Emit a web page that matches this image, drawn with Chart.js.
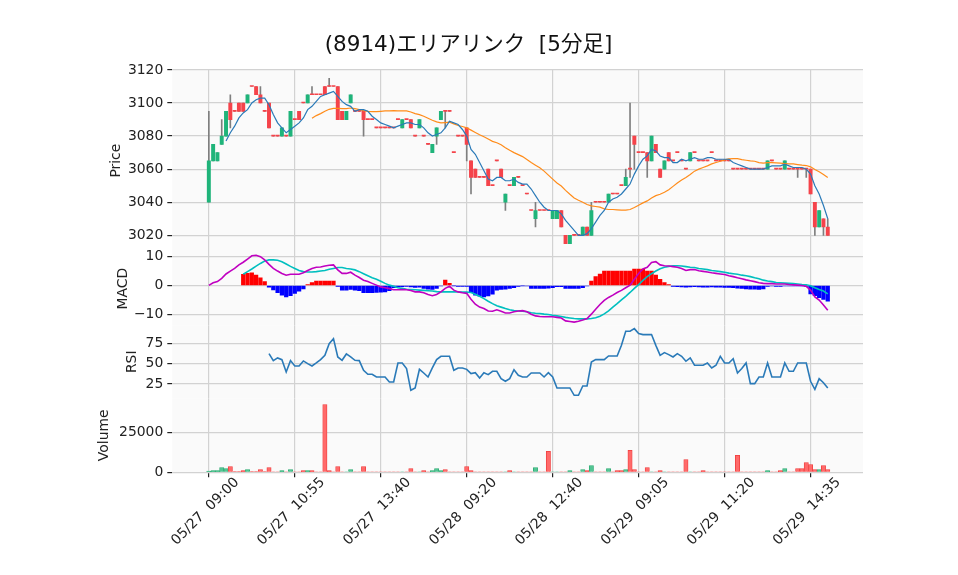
<!DOCTYPE html>
<html>
<head>
<meta charset="utf-8">
<script src="https://cdn.jsdelivr.net/npm/chart.js@4.4.0/dist/chart.umd.min.js"></script>
<style>
  body { margin: 0; background: #fff; }
  #wrap { position: relative; width: 958px; height: 575px; }
  #wrap canvas { position: absolute; left: 0; top: 0; }
</style>
</head>
<body>
<div id="wrap">
  <canvas id="cPrice" width="958" height="575"></canvas>
  <canvas id="cMacd" width="958" height="575"></canvas>
  <canvas id="cRsi" width="958" height="575"></canvas>
  <canvas id="cVol" width="958" height="575"></canvas>
</div>
<script>
// タイトル・目盛り
const chartTitle = '(8914)エリアリンク  [5分足]';
const xTickPos = [0, 20, 40, 60, 80, 100, 120, 140];
const xTickText = ['05/27  09:00', '05/27  10:55', '05/27  13:40', '05/28  09:20',
                   '05/28  12:40', '05/29  09:05', '05/29  11:20', '05/29  14:35'];
const priceTicks = [3020, 3040, 3060, 3080, 3100, 3120];
const macdTicks = [-10, 0, 10];
const rsiTicks = [25, 50, 75];
const volTicks = [0, 25000];

// 5分足 (145本)
const open = [3040,3065,3065,3075,3080,3100,3095,3100,3100,3100,3110,3110,3105,3095,3100,3080,3080,3080,3080,3080,
  3090,3095,3100,3100,3105,3105,3105,3110,3110,3110,3110,3095,3090,3100,3095,3095,3095,3090,3090,3085,
  3085,3085,3085,3085,3090,3085,3090,3090,3080,3085,3080,3075,3070,3080,3090,3095,3095,3070,3080,3080,
  3085,3065,3060,3055,3055,3060,3050,3065,3060,3040,3050,3050,3055,3050,3045,3035,3030,3035,3035,3035,
  3030,3030,3035,3020,3015,3020,3020,3020,3025,3020,3040,3040,3040,3040,3045,3045,3050,3050,3060,3080,
  3070,3070,3070,3065,3075,3060,3060,3070,3065,3070,3065,3060,3065,3070,3065,3065,3065,3070,3065,3065,
  3065,3065,3060,3060,3060,3060,3060,3060,3060,3060,3060,3065,3060,3060,3060,3060,3060,3060,3060,3060,
  3060,3040,3025,3030,3025];
const high = [3095,3075,3070,3090,3095,3105,3095,3100,3100,3105,3110,3110,3110,3095,3100,3080,3080,3085,3080,3095,
  3090,3095,3100,3105,3110,3105,3105,3110,3115,3110,3110,3095,3095,3105,3095,3095,3095,3090,3090,3085,
  3085,3085,3085,3085,3090,3090,3090,3090,3080,3090,3080,3075,3075,3085,3095,3095,3095,3070,3080,3080,
  3085,3065,3060,3055,3055,3060,3050,3065,3060,3045,3050,3055,3055,3050,3045,3035,3040,3035,3035,3035,
  3035,3035,3035,3020,3020,3020,3020,3025,3025,3040,3040,3040,3040,3045,3045,3045,3050,3060,3100,3080,
  3070,3070,3070,3080,3075,3060,3065,3070,3065,3070,3065,3060,3070,3070,3065,3065,3065,3070,3065,3065,
  3065,3065,3060,3060,3060,3060,3060,3060,3060,3060,3065,3065,3060,3060,3065,3060,3060,3060,3060,3060,
  3060,3040,3035,3030,3030];
const low = [3040,3065,3065,3075,3080,3085,3095,3095,3095,3100,3110,3105,3100,3095,3085,3080,3080,3080,3080,3080,
  3090,3090,3100,3100,3105,3105,3105,3105,3110,3110,3090,3090,3090,3100,3095,3095,3080,3090,3090,3085,
  3085,3085,3085,3085,3090,3085,3090,3085,3080,3085,3080,3075,3070,3075,3090,3085,3095,3070,3080,3080,
  3065,3045,3055,3055,3055,3050,3050,3065,3055,3035,3050,3050,3055,3050,3045,3035,3025,3035,3035,3035,
  3030,3030,3025,3015,3015,3020,3020,3020,3020,3020,3040,3040,3040,3040,3045,3045,3050,3050,3055,3060,
  3070,3070,3055,3065,3070,3055,3060,3065,3065,3070,3065,3060,3065,3070,3065,3065,3065,3070,3065,3065,
  3065,3065,3060,3060,3060,3060,3060,3060,3060,3060,3060,3065,3060,3060,3060,3060,3060,3055,3060,3055,
  3045,3020,3025,3020,3020];
const close = [3065,3075,3070,3080,3095,3090,3095,3095,3095,3105,3110,3105,3100,3095,3085,3080,3080,3085,3080,3095,
  3090,3090,3100,3105,3105,3105,3105,3105,3110,3110,3090,3090,3095,3105,3095,3095,3090,3090,3090,3085,
  3085,3085,3085,3085,3090,3090,3090,3085,3080,3090,3080,3075,3075,3085,3095,3095,3095,3070,3080,3080,
  3075,3055,3055,3055,3055,3050,3050,3065,3055,3045,3050,3055,3055,3050,3045,3035,3035,3035,3035,3035,
  3035,3035,3025,3015,3020,3020,3020,3025,3020,3035,3040,3040,3040,3045,3045,3045,3050,3055,3060,3075,
  3070,3070,3065,3080,3070,3055,3065,3065,3065,3070,3065,3060,3070,3070,3065,3065,3065,3070,3065,3065,
  3065,3065,3060,3060,3060,3060,3060,3060,3060,3060,3065,3065,3060,3060,3065,3060,3060,3060,3060,3060,
  3045,3025,3035,3025,3020];
const volume = [800,1000,1000,3000,2300,3600,400,400,1000,1700,400,400,1700,400,3000,300,300,1000,300,1700,
  300,300,1000,1000,1000,300,300,42400,1000,300,3600,300,300,1700,300,300,3600,300,300,300,
  300,300,300,300,300,300,300,2300,300,300,1000,300,1000,2300,1000,1700,300,300,300,300,
  3600,1000,300,300,300,300,300,300,300,300,1000,300,300,300,300,300,3000,300,300,13100,
  300,300,300,300,1000,300,300,1700,1000,4200,300,300,300,2300,300,1000,1000,1700,13800,1700,
  300,300,3000,300,300,1000,300,300,300,300,300,8000,300,300,300,1000,300,300,300,300,
  300,300,300,10600,300,300,300,300,300,300,1000,300,300,1000,2300,300,300,2300,2300,6100,
  4900,1700,1700,4200,1700];

// 移動平均
const ma5 = [null,null,null,null,3077,3082,3086,3091,3094,3096,3100,3102,3103,3103,3099,3093,3088,3085,3082,3084,
  3086,3088,3091,3096,3098,3101,3104,3105,3106,3107,3104,3101,3099,3098,3095,3096,3096,3095,3092,3090,
  3088,3087,3086,3085,3086,3087,3088,3088,3087,3087,3085,3082,3080,3081,3082,3085,3089,3088,3087,3084,
  3080,3072,3069,3064,3059,3054,3053,3055,3055,3053,3053,3054,3052,3051,3051,3048,3044,3040,3037,3035,
  3035,3035,3033,3029,3026,3023,3020,3020,3021,3024,3028,3032,3035,3040,3042,3043,3045,3048,3051,3057,
  3062,3066,3068,3072,3071,3068,3067,3067,3064,3064,3066,3065,3066,3067,3066,3066,3067,3067,3066,3066,
  3066,3066,3064,3063,3062,3061,3060,3060,3060,3060,3061,3062,3062,3062,3063,3062,3061,3061,3061,3060,
  3057,3050,3045,3038,3030];
const ma25 = [null,null,null,null,null,null,null,null,null,null,null,null,null,null,null,null,null,null,null,null,
  null,null,null,null,3090.8,3092.4,3093.6,3095.0,3096.2,3096.8,3096.8,3096.6,3096.6,3097.0,3096.6,3096.0,3095.4,3095.0,3094.8,3094.8,
  3095.0,3095.2,3095.2,3095.4,3095.2,3095.2,3095.2,3094.6,3093.6,3093.0,3092.0,3090.8,3089.6,3088.6,3088.0,3088.2,3088.4,3087.4,3086.4,3085.8,
  3085.0,3083.6,3082.2,3080.8,3079.6,3078.2,3076.8,3076.0,3074.8,3073.0,3071.4,3070.0,3068.8,3067.6,3065.8,3064.0,3062.4,3060.8,3058.8,3056.4,
  3054.0,3051.6,3049.8,3047.2,3044.8,3042.6,3041.2,3040.0,3038.6,3037.8,3037.4,3037.0,3036.0,3035.6,3035.6,3035.4,3035.2,3035.2,3035.6,3036.8,
  3038.2,3039.6,3040.8,3042.6,3044.0,3044.8,3046.0,3047.6,3049.6,3051.6,3053.4,3055.0,3056.8,3058.8,3060.0,3061.0,3062.0,3063.2,3064.0,3064.8,
  3065.6,3066.2,3066.4,3066.4,3065.8,3065.4,3065.0,3064.8,3064.0,3063.6,3064.0,3064.0,3063.8,3063.6,3063.4,3063.2,3063.2,3062.8,3062.4,3062.2,
  3061.4,3059.8,3058.4,3056.8,3055.0];

// MACD
const macd = [0,0.9,1.3,2.4,3.9,4.9,5.8,7.0,7.9,9.0,10.1,10.3,9.8,8.7,7.2,5.8,4.9,4.1,3.5,3.8,
  3.8,3.8,4.3,5.1,5.8,6.2,6.3,6.6,6.9,7.0,5.3,4.1,4.1,4.5,3.5,2.7,1.8,1.3,0.7,0.1,
  -0.5,-0.8,-1.1,-1.5,-1.5,-1.4,-1.5,-1.7,-2.2,-2.2,-2.5,-3.1,-3.5,-3.1,-2.2,-1.0,-0.3,-1.6,-2.2,-2.5,
  -2.7,-4.7,-6.4,-7.4,-7.9,-8.7,-8.8,-8.3,-8.8,-9.4,-9.4,-9.0,-8.7,-8.6,-9.0,-9.8,-10.4,-10.6,-10.7,-10.7,
  -10.7,-10.9,-11.1,-12.1,-12.3,-12.5,-12.2,-11.8,-11.3,-9.8,-8.1,-6.5,-5.1,-4.1,-3.3,-2.4,-1.7,-0.8,0.1,2.1,
  4.1,5.6,6.2,7.8,8.1,7.0,6.7,6.6,6.4,6.2,5.8,5.1,5.4,5.4,5.0,4.8,4.6,4.3,4.1,3.9,
  3.7,3.3,3.0,2.6,2.3,1.9,1.6,1.3,0.9,0.7,0.6,0.6,0.5,0.5,0.5,0.3,0.2,0.1,0,-0.3,
  -1.6,-3.9,-5.0,-6.7,-8.5];
const signal = [null,null,null,null,null,null,null,null,3.8,4.7,5.6,6.6,7.5,8.3,8.7,8.7,8.6,8.1,7.3,6.5,
  5.8,5.1,4.7,4.6,4.6,4.7,4.9,5.1,5.5,5.8,6.1,6.1,5.8,5.6,5.3,4.7,4.0,3.3,2.6,2.1,
  1.4,0.7,0.1,-0.3,-0.8,-1.0,-1.3,-1.4,-1.5,-1.6,-1.7,-1.8,-1.9,-2.1,-2.2,-2.2,-2.2,-2.2,-2.2,-2.3,
  -2.3,-2.4,-3.0,-3.7,-4.5,-5.4,-6.2,-6.9,-7.4,-7.9,-8.3,-8.6,-8.7,-8.8,-9.0,-9.3,-9.5,-9.6,-9.8,-9.9,
  -10.2,-10.4,-10.6,-10.9,-11.1,-11.3,-11.4,-11.4,-11.4,-11.3,-11.0,-10.5,-9.7,-8.7,-7.4,-6.2,-4.9,-3.7,-2.4,-1.0,
  0.3,1.7,3.0,4.0,4.9,5.7,6.2,6.5,6.7,6.7,6.6,6.4,6.2,6.1,5.8,5.6,5.4,5.1,4.9,4.7,
  4.5,4.2,4.0,3.8,3.5,3.3,3.0,2.6,2.3,1.8,1.5,1.3,1.0,0.9,0.8,0.7,0.6,0.5,0.3,0.2,
  -0.1,-0.8,-1.4,-1.9,-2.9];
const hist = [null,null,null,null,null,null,null,null,3.8,4.1,4.3,3.5,2.6,1.3,-0.6,-1.5,-2.5,-3.3,-3.9,-3.5,
  -2.7,-2.0,-1.2,0.3,1.0,1.5,1.5,1.5,1.5,1.5,-0.3,-1.6,-1.6,-1.4,-1.6,-1.8,-2.5,-2.5,-2.5,-2.4,
  -2.3,-2.2,-1.8,-0.8,-0.5,-0.4,-0.3,-0.5,-0.7,-0.6,-1.0,-1.3,-1.4,-1.0,-0.2,1.8,0.7,-0.1,-0.3,-0.3,
  -0.3,-2.5,-3.3,-3.7,-3.9,-3.6,-3.0,-1.6,-1.4,-1.3,-1.0,-0.8,-0.3,-0.1,-0.2,-1.0,-1.0,-1.0,-1.0,-0.9,
  -0.8,-0.4,-0.4,-1.0,-1.0,-1.0,-1.0,-0.8,-0.2,1.5,3.0,3.9,4.9,4.9,4.9,4.9,4.9,4.9,4.9,5.6,
  5.6,5.6,4.9,4.9,3.5,2.1,1.0,0.3,-0.3,-0.4,-0.5,-0.6,-0.5,-0.4,-0.5,-0.6,-0.6,-0.5,-0.6,-0.6,
  -0.7,-0.7,-0.8,-0.9,-1.0,-1.2,-1.3,-1.3,-1.4,-1.2,-0.3,-0.2,-0.3,-0.3,-0.2,-0.2,-0.2,-0.2,-0.2,-0.3,
  -2.9,-3.5,-4.2,-4.8,-5.4];

// RSI
const rsi = [null,null,null,null,null,null,null,null,null,null,null,null,null,null,62.3,53.7,57.0,54.9,39.8,53.7,
  47.1,47.1,53.3,50.0,47.1,50.8,54.9,60.2,74.6,80.7,58.2,54.1,61.9,58.2,54.1,53.7,41.8,36.9,36.9,33.6,
  33.6,33.6,27.5,27.5,50.8,50.8,43.9,17.2,20.1,43.0,38.5,33.6,44.7,54.9,59.0,59.0,59.0,41.8,44.7,44.7,
  43.0,37.7,38.9,32.4,38.9,36.5,40.6,40.6,31.6,28.3,31.6,42.6,35.7,33.6,33.6,38.5,38.5,38.5,33.6,38.9,
  33.6,20.1,20.1,20.1,20.1,11.1,11.1,22.5,22.5,52.0,54.9,54.9,54.9,59.4,59.4,59.4,72.5,89.8,89.8,93.0,
  86.9,85.7,85.7,85.7,72.5,60.2,63.5,61.1,58.2,62.3,59.0,52.9,57.0,48.0,48.0,48.0,50.8,44.7,48.0,59.0,
  50.8,50.8,56.1,38.5,43.9,50.8,25.4,25.4,33.6,33.6,50.8,33.6,33.6,33.6,50.8,40.6,40.6,50.8,50.8,50.8,
  28.3,18.4,31.6,26.6,20.1];

// ---- 描画 ----
const UP = '#1fb47a', DOWN = '#f5434a', WICK = '#7f7f7f';
const FONT = '"DejaVu Sans", "Noto Sans CJK JP", sans-serif';
const FSIZE = 13.9;
const X_MIN = -8.5, X_MAX = 152.2;
const xy = (arr) => arr.map((v, i) => ({ x: i, y: v }));
const isUp = (i) => close[i] > open[i];

const panelBg = {
  id: 'panelBg',
  beforeDraw(chart) {
    const { ctx, chartArea: a } = chart;
    ctx.save();
    ctx.fillStyle = '#fafafa';
    ctx.fillRect(a.left, a.top, a.right - a.left, a.bottom - a.top);
    ctx.restore();
  }
};

const titlePlugin = {
  id: 'mainTitle',
  afterDraw(chart) {
    const ctx = chart.ctx;
    ctx.save();
    ctx.font = '21.5px ' + FONT;
    ctx.fillStyle = '#111';
    ctx.textAlign = 'center';
    ctx.textBaseline = 'middle';
    ctx.fillText(chartTitle, 468.5, 45);
    ctx.restore();
  }
};

function fmt(v) {
  return v < 0 ? '\u2212' + Math.abs(v) : String(v);
}

function makePanel(id, p) {
  const tickFont = { family: FONT, size: FSIZE };
  const padLeft = p.titleX - FSIZE * 0.6;
  return new Chart(document.getElementById(id), {
    type: 'bar',
    data: { datasets: p.datasets },
    plugins: p.plugins || [panelBg],
    options: {
      responsive: false,
      animation: false,
      events: [],
      layout: { padding: { left: padLeft, right: 95, top: p.top, bottom: p.last ? 0 : 575 - p.bottom } },
      plugins: { legend: { display: false }, tooltip: { enabled: false } },
      scales: {
        x: {
          type: 'linear', min: X_MIN, max: X_MAX, offset: false,
          border: { display: false },
          grid: { offset: false, color: '#d2d2d2', lineWidth: 1.2, drawTicks: !!p.last, tickLength: 5, tickColor: '#222' },
          afterBuildTicks: (ax) => { ax.ticks = xTickPos.map(v => ({ value: v })); },
          afterFit: (ax) => { ax.height = p.last ? 575 - p.bottom : 0; },
          ticks: {
            display: !!p.last, autoSkip: false, maxRotation: 45, minRotation: 45,
            color: '#222', font: tickFont, padding: -3, labelOffset: 28,
            callback: (v) => xTickText[xTickPos.indexOf(v)]
          }
        },
        y: {
          min: p.min, max: p.max,
          border: { display: false },
          grid: { color: '#d2d2d2', lineWidth: 1.2, tickLength: 5, tickColor: '#222' },
          afterBuildTicks: (ax) => { ax.ticks = p.yTicks.map(v => ({ value: v })); },
          afterFit: (ax) => { ax.width = 172.3 - padLeft; },
          title: { display: true, text: p.yTitle, color: '#222', font: { family: FONT, size: FSIZE }, padding: 0 },
          ticks: { color: '#222', font: tickFont, padding: 4, callback: (v) => fmt(v) }
        }
      }
    }
  });
}

// 価格
makePanel('cPrice', {
  top: 69.3, bottom: 252, titleX: 116, yTitle: 'Price', min: 3009.9, max: 3120.4, yTicks: priceTicks,
  plugins: [panelBg, titlePlugin],
  datasets: [
    { type: 'line', data: xy(ma5), borderColor: '#2a7ab8', borderWidth: 1.2, pointRadius: 0, order: 0 },
    { type: 'line', data: xy(ma25), borderColor: '#ff8c1a', borderWidth: 1.2, pointRadius: 0, order: 0 },
    { type: 'bar', data: open.map((o, i) => ({ x: i, y: [o, close[i]] })), grouped: false,
      barThickness: 3.3, minBarLength: 1, borderWidth: 0,
      backgroundColor: open.map((o, i) => isUp(i) ? UP : DOWN), order: 1 },
    { type: 'bar', data: low.map((l, i) => ({ x: i, y: [l, high[i]] })), grouped: false,
      barThickness: 1, minBarLength: 0, borderWidth: 0, backgroundColor: WICK, order: 2 }
  ]
});

// MACD
makePanel('cMacd', {
  top: 252, bottom: 325.3, titleX: 123.7, yTitle: 'MACD', min: -13.6, max: 11.4, yTicks: macdTicks,
  datasets: [
    { type: 'line', data: xy(macd), borderColor: '#c000c0', borderWidth: 1.6, pointRadius: 0, order: 0 },
    { type: 'line', data: xy(signal), borderColor: '#00bfbf', borderWidth: 1.6, pointRadius: 0, order: 0 },
    { type: 'bar', data: xy(hist), grouped: false, barThickness: 3.6, borderWidth: 0,
      backgroundColor: hist.map(v => v >= 0 ? '#ff0000' : '#0000ff'), order: 1 }
  ]
});

// RSI
makePanel('cRsi', {
  top: 325.3, bottom: 398.3, titleX: 132, yTitle: 'RSI', min: 7.4, max: 97.1, yTicks: rsiTicks,
  datasets: [
    { type: 'line', data: xy(rsi), borderColor: '#2a7ab8', borderWidth: 1.6, pointRadius: 0 }
  ]
});

// 出来高
makePanel('cVol', {
  top: 398.3, bottom: 472.3, titleX: 104.5, yTitle: 'Volume', min: 0, max: 46250, yTicks: volTicks, last: true,
  datasets: [
    { type: 'bar', data: xy(volume), grouped: false, barThickness: 4.3, borderWidth: 0.8,
      backgroundColor: volume.map((v, i) => isUp(i) ? '#52c493' : '#ff6a6a'),
      borderColor: volume.map((v, i) => isUp(i) ? '#2aaa70' : '#f03c3c') }
  ]
});
</script>
</body>
</html>
